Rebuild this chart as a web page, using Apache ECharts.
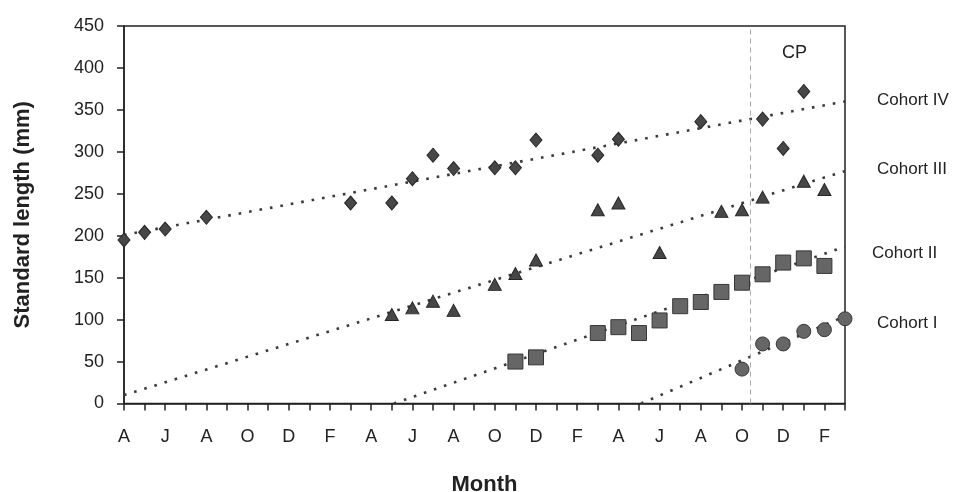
<!DOCTYPE html>
<html>
<head>
<meta charset="utf-8">
<script src="https://cdn.jsdelivr.net/npm/echarts@6/dist/echarts.min.js"></script>
<style>
  html, body { margin: 0; padding: 0; background: #fff; }
  #chart { width: 968px; height: 492px; }
</style>
</head>
<body>
<div id="chart"></div>
<script>
// Month initials shown every second month along the x axis (month index 0 = April)
const monthLabels = ['A','J','A','O','D','F','A','J','A','O','D','F','A','J','A','O','D','F'];

// Standard length (mm) per cohort: [month index, length]
const cohortIV = [[0,195],[1,204],[2,208],[4,222],[11,239],[13,239],[14,268],[15,296],[16,280],
                  [18,281],[19,281],[20,314],[23,296],[24,315],[28,336],[31,339],[32,304],[33,372]];
const cohortIII = [[13,106],[14,114],[15,122],[16,111],[18,142],[19,155],[20,171],[23,231],[24,239],
                   [26,180],[29,229],[30,231],[31,246],[33,265],[34,255]];
const cohortII = [[19,50],[20,55],[23,84],[24,91],[25,84],[26,99],[27,116],[28,121],[29,133],
                  [30,144],[31,154],[32,168],[33,173],[34,164]];
const cohortI = [[30,41],[31,71],[32,71],[33,86],[34,88],[35,101]];

// Linear growth trends (end points)
const trendIV = [[0,201],[35,360]];
const trendIII = [[0,10],[35,277]];
const trendII = [[13.1,0],[35,187]];
const trendI = [[25.1,0],[35,104]];

// Month of the CP marker line
const cpMonth = 30.4;

const cohortNames = ['Cohort IV','Cohort III','Cohort II','Cohort I'];

const FONT = "'Liberation Sans', Arial, sans-serif";
const chart = echarts.init(document.getElementById('chart'), null, { renderer: 'canvas' });

const dotted = { color: '#3a3a3a', width: 2.6, type: [2.6, 8], cap: 'butt' };
function trend(data) {
  return { type: 'line', data: data, symbol: 'none', lineStyle: dotted, silent: true, z: 2, clip: false };
}
function points(data, symbol, size, fill, edge) {
  return {
    type: 'scatter', data: data, symbol: symbol, symbolSize: size, clip: false, z: 3,
    itemStyle: { color: fill, borderColor: edge, borderWidth: 1, opacity: 1 }
  };
}

const option = {
  animation: false,
  backgroundColor: '#fff',
  grid: {
    left: 124, right: 123, top: 26, bottom: 88.5, containLabel: false, outerBoundsMode: 'none',
    show: true, borderColor: '#222', borderWidth: 1.5, backgroundColor: 'transparent'
  },
  xAxis: {
    type: 'value', min: 0, max: 35, interval: 1,
    name: 'Month', nameLocation: 'middle', nameGap: 70,
    nameTextStyle: { fontFamily: FONT, fontWeight: 'bold', fontSize: 22, color: '#222' },
    axisLine: { show: true, lineStyle: { color: '#222', width: 1.5 } },
    axisTick: { show: true, length: 7, lineStyle: { color: '#222', width: 1.5 } },
    axisLabel: {
      margin: 25, fontFamily: FONT, fontSize: 18, color: '#222', showMaxLabel: true, showMinLabel: true,
      formatter: v => (v % 2 === 0 && monthLabels[v / 2] !== undefined) ? monthLabels[v / 2] : ''
    },
    splitLine: { show: false }
  },
  yAxis: {
    type: 'value', min: 0, max: 450, interval: 50,
    name: 'Standard length (mm)', nameLocation: 'middle', nameGap: 90,
    nameTextStyle: { fontFamily: FONT, fontWeight: 'bold', fontSize: 22, color: '#222' },
    axisLine: { show: true, lineStyle: { color: '#222', width: 1.5 } },
    axisTick: { show: true, length: 7, lineStyle: { color: '#222', width: 1.5 } },
    axisLabel: { margin: 20, fontFamily: FONT, fontSize: 18, color: '#222' },
    splitLine: { show: false }
  },
  series: [
    trend(trendIV), trend(trendIII), trend(trendII), trend(trendI),
    Object.assign(points(cohortIV, 'diamond', [12, 14], '#474747', '#262626'), {
      markLine: {
        silent: true, symbol: 'none', label: { show: false },
        lineStyle: { color: '#aaa', width: 1, type: [5, 4] },
        data: [{ xAxis: cpMonth }]
      }
    }),
    points(cohortIII, 'triangle', [13, 12], '#474747', '#262626'),
    points(cohortII, 'rect', 15, '#666', '#363636'),
    points(cohortI, 'circle', 14, '#666', '#363636')
  ],
  graphic: [
    { type: 'text', left: 782, top: 44, style: { text: 'CP', font: '18px ' + FONT, fill: '#222' } },
    { type: 'text', left: 877, top: 92, style: { text: cohortNames[0], font: '17px ' + FONT, fill: '#222' } },
    { type: 'text', left: 877, top: 161, style: { text: cohortNames[1], font: '17px ' + FONT, fill: '#222' } },
    { type: 'text', left: 872, top: 245, style: { text: cohortNames[2], font: '17px ' + FONT, fill: '#222' } },
    { type: 'text', left: 877, top: 315, style: { text: cohortNames[3], font: '17px ' + FONT, fill: '#222' } }
  ]
};

chart.setOption(option);
</script>
</body>
</html>
